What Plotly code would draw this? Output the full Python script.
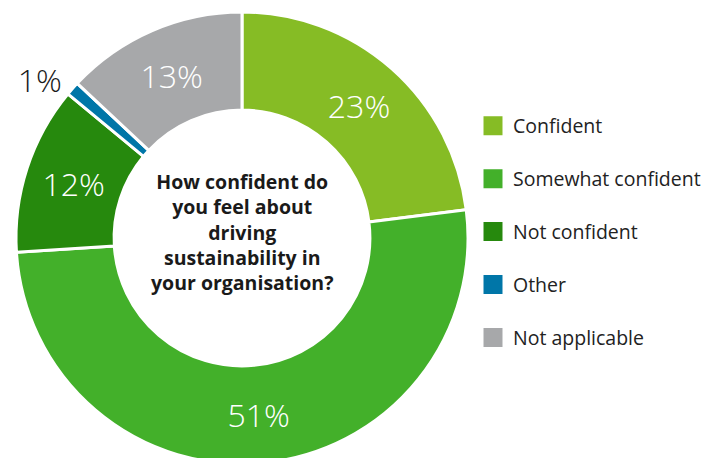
import plotly.graph_objects as go

labels = ["Confident", "Somewhat confident", "Not confident", "Other", "Not applicable"]
values = [23, 51, 12, 1, 13]
colors = ["#86BC25", "#43B02A", "#26890D", "#0076A8", "#A7A8AA"]
text_pos = ["inside", "inside", "inside", "outside", "inside"]
center_lines = ["How confident do", "you feel about", "driving",
                "sustainability in", "your organisation?"]

W, H = 709, 458
T, B = 4, 2
PH = H - T - B  # plot-area height


def py(fig_y):
    """figure pixel y -> paper y"""
    return 1 - (fig_y - T) / PH


fig = go.Figure()

fig.add_trace(go.Pie(
    labels=labels, values=values, sort=False, direction="clockwise", rotation=0,
    hole=0.566,
    marker=dict(colors=colors, line=dict(color="white", width=3)),
    texttemplate="%{value}%", textinfo="text",
    textposition=text_pos, insidetextorientation="horizontal",
    insidetextfont=dict(family="Open Sans", size=32, color="white", weight=300),
    outsidetextfont=dict(family="Open Sans", size=32, color="#1a1a1a", weight=300),
    domain=dict(x=[0, 468 / W], y=[0, 1]),
    showlegend=False, hoverinfo="skip",
))

for i, (lab, col) in enumerate(zip(labels, colors)):
    fig.add_trace(go.Scatter(
        x=[None], y=[None], mode="markers", name=lab, legendgroup=f"g{i}",
        marker=dict(symbol="square", size=16, color=col,
                    line=dict(color=col, width=3)),
        showlegend=True,
    ))

fig.add_annotation(
    text="<b>" + "<br>".join(center_lines) + "</b>", x=234 / W, y=py(223.5),
    xref="paper", yref="paper", showarrow=False, align="center",
    font=dict(family="Open Sans", size=19.5, color="#1a1a1a"),
    xanchor="center", yanchor="middle",
)

fig.update_layout(
    width=W, height=H,
    margin=dict(l=0, r=0, t=T, b=B, autoexpand=False),
    paper_bgcolor="white", plot_bgcolor="white",
    xaxis=dict(visible=False), yaxis=dict(visible=False),
    legend=dict(x=465 / W, y=py(98.5), xanchor="left", yanchor="top",
                font=dict(family="Open Sans", size=19.5, color="#222222"),
                tracegroupgap=24.6, itemsizing="trace", bgcolor="rgba(0,0,0,0)"),
    font=dict(family="Open Sans"),
)

fig.write_html("out.html")
